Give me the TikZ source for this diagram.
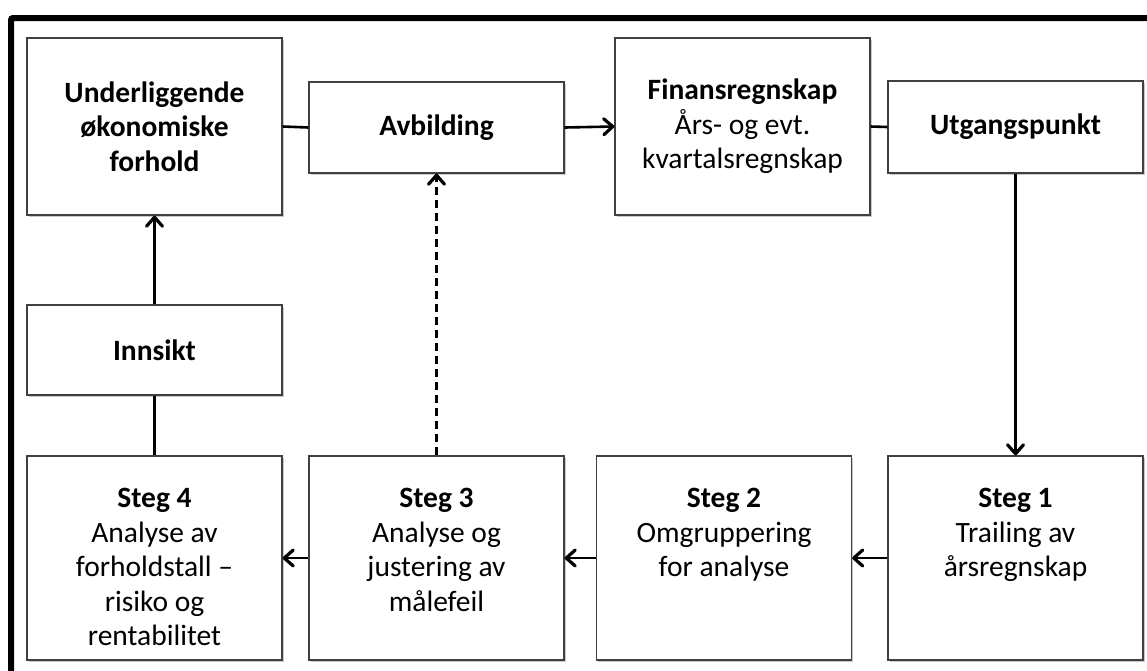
\documentclass[tikz,border=0pt]{standalone}
\usepackage{fontspec}
\setmainfont{Carlito}
\usetikzlibrary{arrows.meta,shadows}
\tikzset{
  box/.style={draw=black!75, line width=1.3pt, fill=white,
    minimum width=255pt, inner sep=0pt, align=center,
    drop shadow={shadow xshift=1.6pt, shadow yshift=-1.6pt, opacity=0.35, fill=black!60},
    font=\fontsize{29.5}{34.5}\selectfont},
  boxtext/.style={anchor=north, inner sep=0pt, align=center,
    font=\fontsize{29.5}{34.5}\selectfont},
  link/.style={line width=2.6pt, draw=black},
  arr/.style={link, -{Straight Barb[length=9pt, width=16pt, line width=3.2pt, round]}},
}
\begin{document}
\begin{tikzpicture}[x=1pt, y=-1pt]
\useasboundingbox (0,0) rectangle (1147,670);
\fill[white] (0,0) rectangle (1147,670);
% outer frame, running off the right and bottom edges
\begin{scope}
  \clip (0,0) rectangle (1147,670);
  \draw[line width=6pt, rounded corners=2pt] (11,18) rectangle (1170,700);
\end{scope}

% top row
\node[box, minimum height=177pt] (und) at (154.5,126.5)
  {\textbf{Underliggende}\\\textbf{økonomiske}\\\textbf{forhold}};
\node[box, minimum height=91pt] (avb) at (436.5,127.5) {\textbf{Avbilding}};
\node[box, minimum height=177pt] (fin) at (742.5,126.5)
  {\textbf{Finansregnskap}\\Års- og evt.\\kvartalsregnskap};
\node[box, minimum height=92pt] (utg) at (1015.5,127) {\textbf{Utgangspunkt}};

% middle
\node[box, minimum height=90pt] (inn) at (154.5,350) {\textbf{Innsikt}};

% bottom row of steps
\node[box, minimum height=204pt] (s4) at (154.5,558) {};
\node[box, minimum height=204pt] (s3) at (436.5,558) {};
\node[box, minimum height=204pt] (s2) at (724,558) {};
\node[box, minimum height=204pt] (s1) at (1015.5,558) {};

\node[boxtext] (s4t) at (154.5,488)
  {\textbf{Steg 4}\\Analyse av\\forholdstall –\\risiko og\\rentabilitet};
\node[boxtext] (s3t) at (436.5,488)
  {\textbf{Steg 3}\\Analyse og\\justering av\\målefeil};
\node[boxtext] (s2t) at (724,488)
  {\textbf{Steg 2}\\Omgruppering\\for analyse};
\node[boxtext] (s1t) at (1015.5,488)
  {\textbf{Steg 1}\\Trailing av\\årsregnskap};

% connectors
\draw[link] (und.east) -- (avb.west);
\draw[arr] (avb.east) -- (fin.west);
\draw[link] (fin.east) -- (utg.west);
\draw[arr] (utg.south) -- (s1.north);
\draw[arr] (s1.west) -- (s2.east);
\draw[arr] (s2.west) -- (s3.east);
\draw[arr] (s3.west) -- (s4.east);
\draw[arr, dash pattern=on 8pt off 5pt] (s3.north) -- (avb.south);
\draw[link] (s4.north) -- (inn.south);
\draw[arr] (inn.north) -- (und.south);
\end{tikzpicture}
\end{document}
